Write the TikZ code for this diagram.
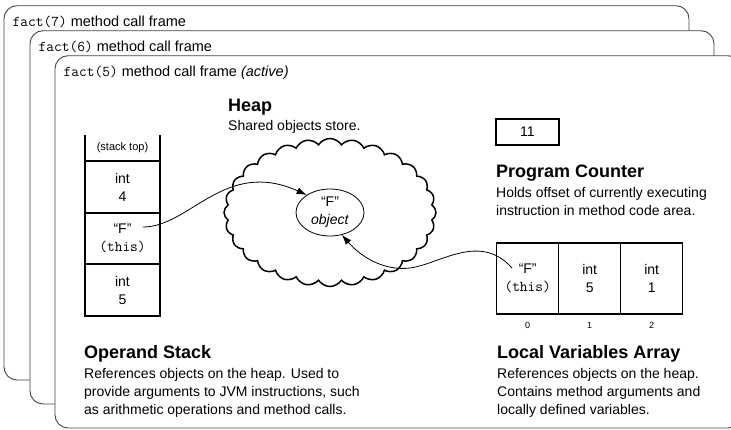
\documentclass[tikz,border=0pt]{standalone}
\usepackage{fontspec}
\setmainfont{Liberation Sans}
\usepackage{xcolor}
\definecolor{frameGray}{HTML}{444444}
\usepackage{tikz}
\usetikzlibrary{shapes,arrows,positioning,calc,arrows.meta,shapes.symbols,shapes.geometric}
\newcommand{\bodyFont}{\fontsize{14}{18}\selectfont}
\newcommand{\headFont}{\fontsize{18}{20}\selectfont\bfseries}
\newcommand{\labelFont}{\fontsize{14.5}{18}\selectfont}
\newcommand{\smallFont}{\fontsize{11}{12}\selectfont}
\newcommand{\jcode}[1]{{\fontsize{15}{18}\selectfont\ttfamily #1}}
\tikzset{%
  frameBox/.style={%
    draw=frameGray,
    line width=0.9pt,
    fill=white,
    rounded corners=13pt
  },
  frameLabel/.style={%
    anchor=base west,
    inner sep=0pt,
    font=\labelFont
  },
  stackCell/.style={%
    rectangle,
    draw,
    line width=1.2pt,
    outer sep=0pt,
    inner sep=0pt,
    minimum width=75pt,
    align=center,
    font=\bodyFont
  },
  varCell/.style={%
    rectangle,
    draw,
    line width=1.2pt,
    outer sep=0pt,
    inner sep=0pt,
    minimum width=62pt,
    minimum height=71pt,
    align=center,
    font=\bodyFont
  },
  heading/.style={%
    anchor=base west,
    inner sep=0pt,
    font=\headFont
  },
  descText/.style={%
    inner sep=0pt,
    align=left,
    font=\bodyFont
  },
  refArrow/.style={%
    -{Latex[length=10pt,width=7pt]},
    line width=0.8pt
  },
  heapCloud/.style={%
    cloud,
    draw,
    line width=1.5pt,
    cloud puffs=28,
    cloud puff arc=115,
    aspect=1.45,
    minimum width=212pt,
    minimum height=148pt
  },
  objEllipse/.style={%
    ellipse,
    draw,
    fill=white,
    line width=0.8pt,
    inner sep=0pt,
    minimum width=68pt,
    minimum height=47pt,
    align=center,
    font=\bodyFont
  },
  indexLabel/.style={%
    inner sep=0pt,
    font=\fontsize{9}{9}\selectfont
  }
}

\begin{document}
\begin{tikzpicture}[x=1pt,y=-1pt]
  \useasboundingbox (0,0) rectangle (731,429);

  % call frames
  \draw[frameBox] (4,5.7) rectangle (689,380);
  \node[frameLabel] (lbl7) at (12.5,26.7) {\jcode{fact(7)} method call frame};
  \draw[frameBox] (30,30.7) rectangle (714,404);
  \node[frameLabel] (lbl6) at (38.5,51.7) {\jcode{fact(6)} method call frame};
  \draw[frameBox] (55,55.7) rectangle (741,428);
  \node[frameLabel] (lbl5) at (63.5,76.7) {\jcode{fact(5)} method call frame \textit{(active)}};

  % operand stack
  \node[stackCell, minimum height=52pt] (s4) at (122.5,187) {int\\4};
  \node[stackCell, minimum height=26pt, draw=none, font=\smallFont, above=0pt of s4] (stTop) {(stack top)};
  \draw[line width=1.2pt] (stTop.north west) -- (stTop.south west);
  \draw[line width=1.2pt] (stTop.north east) -- (stTop.south east);
  \node[stackCell, minimum height=51pt, below=0pt of s4] (sF) {``F''\\\jcode{(this)}};
  \node[stackCell, minimum height=52pt, below=0pt of sF] (s5) {int\\5};

  \node[heading] (opHead) at (84,358.5) {Operand Stack};
  \node[descText, below=5.5pt of opHead.south west, anchor=north west] (opDesc)
    {References objects on the heap. Used to\\provide arguments to JVM instructions, such\\as arithmetic operations and method calls.};

  % heap
  \node[heading] (heapHead) at (228,111.5) {Heap};
  \node[descText, below=5pt of heapHead.south west, anchor=north west] (heapDesc) {Shared objects store.};
  \node[heapCloud] (heap) at (330,212.5) {};
  \node[objEllipse] (obj) at (330,212.5) {``F''\\\textit{object}};

  % program counter
  \node[stackCell, minimum width=63pt, minimum height=26pt] (pc) at (527.5,132) {11};
  \node[heading] (pcHead) at (496,177.5) {Program Counter};
  \node[descText, below=5.5pt of pcHead.south west, anchor=north west] (pcDesc)
    {Holds offset of currently executing\\instruction in method code area.};

  % local variables
  \node[varCell] (lv0) at (527.7,278.5) {``F''\\\jcode{(this)}};
  \node[varCell, right=0pt of lv0] (lv1) {int\\5};
  \node[varCell, right=0pt of lv1] (lv2) {int\\1};
  \node[indexLabel, below=8.5pt of lv0] (ix0) {0};
  \node[indexLabel, below=8.5pt of lv1] (ix1) {1};
  \node[indexLabel, below=8.5pt of lv2] (ix2) {2};

  \node[heading] (lvHead) at (497,358.5) {Local Variables Array};
  \node[descText, below=5.5pt of lvHead.south west, anchor=north west] (lvDesc)
    {References objects on the heap.\\Contains method arguments and\\locally defined variables.};

  % references
  \coordinate (sFref) at (143,227);
  \coordinate (lvFref) at (512,268);
  \draw[refArrow] (sFref) .. controls (190,227) and (225,158) .. (obj.143);
  \draw[refArrow] (lvFref) .. controls (480,232) and (440,264) .. (410,268)
    .. controls (385,271) and (362,258) .. (obj.-62);
\end{tikzpicture}
\end{document}
